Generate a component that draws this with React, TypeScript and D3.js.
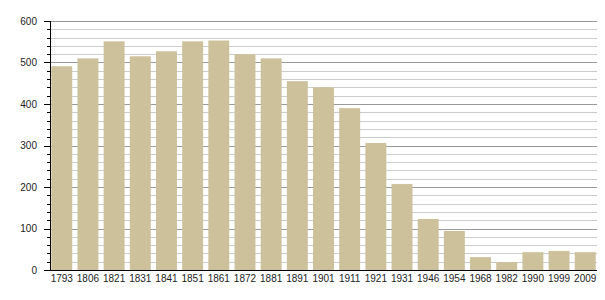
import React from "react";
import * as d3 from "d3";

const years = ["1793","1806","1821","1831","1841","1851","1861","1872","1881","1891","1901","1911","1921","1931","1946","1954","1968","1982","1990","1999","2009"];
const population = [491,510,551,515,527,551,553,520,510,455,440,390,306,207,123,94,31,19,43,46,43];
const majorTicks = [0,100,200,300,400,500,600];
const minorTicks = d3.range(0, 601, 20);

const W = 605, H = 300;
const left = 50, right = 597, top = 21, bottom = 270;

export default function App() {
  const x = d3.scaleBand<string>().domain(years).range([left, right]).paddingInner(0.2).paddingOuter(0.05);
  const y = d3.scaleLinear().domain([0, 600]).range([bottom, top]);
  const font = "Liberation Sans, Arial, sans-serif";
  return (
    <svg width={W} height={H} style={{ position: "absolute", left: 0, top: 0, background: "#fff" }}>
      {minorTicks.filter(v => v % 100 !== 0).map(v => (
        <line key={"g" + v} x1={left} x2={right} y1={Math.round(y(v)) + 0.5} y2={Math.round(y(v)) + 0.5} stroke="#cccccc" strokeWidth={1} />
      ))}
      {majorTicks.filter(v => v !== 0).map(v => (
        <line key={"G" + v} x1={left} x2={right} y1={Math.round(y(v)) + 0.5} y2={Math.round(y(v)) + 0.5} stroke="#999999" strokeWidth={1} />
      ))}
      {years.map((yr, i) => (
        <rect key={yr} x={x(yr)} y={y(population[i])} width={x.bandwidth()} height={y(0) - y(population[i])} fill="#ccc19b" />
      ))}
      {minorTicks.map(v => (
        <line key={"t" + v} x1={v % 100 === 0 ? left - 6 : left - 3} x2={left} y1={Math.round(y(v)) + 0.5} y2={Math.round(y(v)) + 0.5} stroke="#000" strokeWidth={1} />
      ))}
      <line x1={left + 0.5} x2={left + 0.5} y1={top} y2={bottom + 0.5} stroke="#000" strokeWidth={1} />
      <line x1={left} x2={right} y1={bottom + 0.5} y2={bottom + 0.5} stroke="#000" strokeWidth={1} />
      {majorTicks.map(v => (
        <text key={"l" + v} x={37} y={y(v) + 3.5} textAnchor="end" fontFamily={font} fontSize={10} fill="#222">{v}</text>
      ))}
      {years.map(yr => (
        <text key={"x" + yr} x={(x(yr) as number) + x.bandwidth() / 2} y={282} textAnchor="middle" fontFamily={font} fontSize={10} fill="#222">{yr}</text>
      ))}
    </svg>
  );
}
